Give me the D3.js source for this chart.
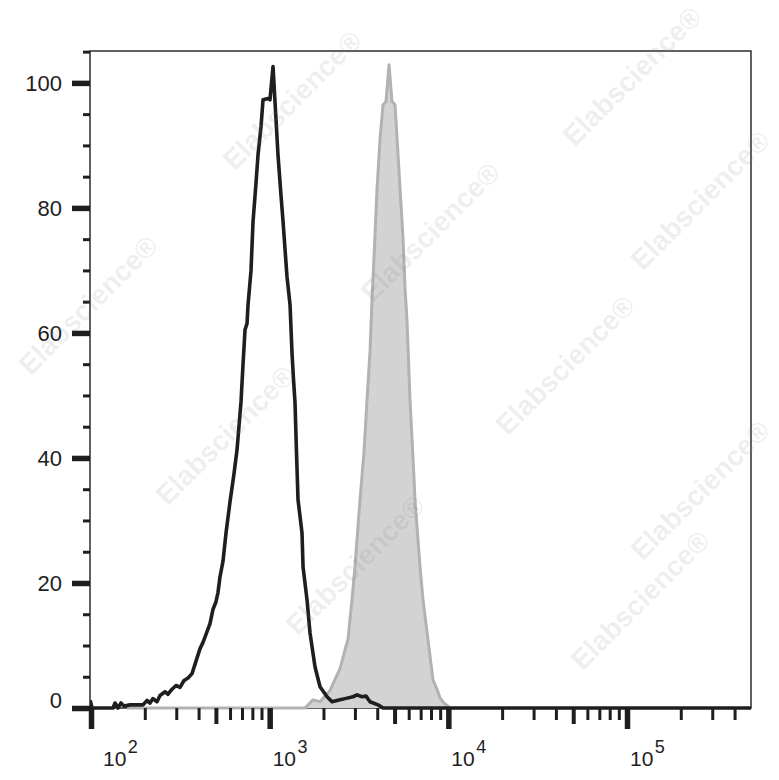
<!DOCTYPE html>
<html>
<head>
<meta charset="utf-8">
<script src="https://cdn.jsdelivr.net/npm/d3@7"></script>
<style>
  html, body { margin: 0; padding: 0; background: #fff; }
  svg { display: block; }
</style>
</head>
<body>
<svg id="chart" width="779" height="780"></svg>
<script>
// ---- data ----
const xDomain = [98.7, 494300];           // fluorescence axis extent
const yDomain = [0, 105.1];               // count axis extent
const yMajorTicks = [0, 20, 40, 60, 80, 100];
const yMinorTicks = [5, 10, 15, 25, 30, 35, 45, 50, 55, 65, 70, 75, 85, 90, 95, 105];
const xDecades = [100, 1000, 10000, 100000];
const xDecadeExponents = ["2", "3", "4", "5"];

// unstained / isotype (black outline)
const blackIntensity = [99, 101.3, 132.8, 136.3, 141.6, 147.2, 153.0, 165.3, 195.4, 205.8, 213.9, 222.3, 234.1, 243.3,
  259.5, 269.8, 284.1, 299.1, 314.9, 331.6, 349.1, 367.6, 387.0, 407.5, 423.6, 446.0, 463.5, 481.8, 500.8, 513.8,
  527.2, 548.0, 569.6, 599.8, 631.6, 656.5, 691.2, 709.3, 727.8, 746.8, 756.5, 786.3, 806.8, 838.6, 860.5, 894.4,
  917.8, 978.8, 1004, 1044, 1071, 1113, 1157, 1188, 1250, 1300, 1334, 1360, 1386, 1412, 1441, 1517, 1537, 1618,
  1682, 1793, 1913, 2094, 2234, 2475, 2640, 2927, 3083, 3287, 3461, 3644, 4040, 4309, 494300];
const blackCount = [1.2, 0, 0, 0.8, 0, 0.8, 0.3, 0.5, 0.5, 1.2, 0.8, 1.5, 1.0, 2.0,
  2.6, 2.2, 3.0, 3.6, 3.3, 4.4, 4.8, 5.5, 7.5, 9.5, 10.5, 12.2, 13.5, 15.8, 17, 18.5,
  21, 23.5, 28, 33, 37.5, 41.3, 49, 55, 60.5, 61.5, 64.5, 70, 77.8, 84, 88.5, 93,
  97.3, 97.5, 97.3, 102.6, 97, 88.5, 82, 77.8, 69, 64.5, 56.7, 52.5, 48.9, 41.1, 33.3, 28, 22.6, 17.3,
  12, 6.6, 3.4, 1.8, 1.0, 1.3, 1.5, 1.8, 2.1, 1.8, 1.9, 1.0, 0.5, 0, 0];

// stained sample (grey filled)
const greyIntensity = [159.0, 1576, 1748, 1913, 2176, 2475, 2640, 2744, 2889, 3003, 3203, 3373, 3506, 3644, 3739,
  3836, 3988, 4145, 4309, 4479, 4656, 4839, 5030, 5161, 5363, 5575, 5720, 5869, 6101, 6342, 6507, 6941, 7215,
  7693, 8206, 8640, 8981, 9456, 9956, 10210];
const greyCount = [0, 0, 1.3, 1.0, 2.8, 6.3, 9.3, 11, 17.3, 22.6, 33.3, 41, 49.3, 57, 65.3,
  72, 83, 91, 96.5, 97, 102.9, 97, 96.5, 91.2, 83.2, 75.2, 67.2, 62, 49.3, 40, 33.3, 22.6, 17.3,
  10.9, 4.5, 3.0, 1.6, 0.8, 0.3, 0];

const watermarkText = "Elabscience\u00AE";
const watermarkCenters = [[292, 100], [632, 76], [430, 232], [88, 305], [565, 365], [700, 200],
  [225, 435], [700, 490], [355, 565], [640, 600]];

// ---- drawing ----
const svg = d3.select("#chart");
const L = 90, R = 751, T = 51, B = 708;
const x = d3.scaleLog().domain(xDomain).range([L, R]);
const y = d3.scaleLinear().domain(yDomain).range([B, T]);
const font = "'Liberation Sans', Arial, Helvetica, sans-serif";
const ink = "#1e1e1e";

svg.append("defs").append("clipPath").attr("id", "plotclip")
  .append("rect").attr("x", L).attr("y", T - 2).attr("width", R - L).attr("height", B - T + 6);

// frame
svg.append("rect").attr("x", L).attr("y", T).attr("width", R - L).attr("height", B - T)
  .attr("fill", "none").attr("stroke", ink).attr("stroke-width", 1.4);

const plot = svg.append("g").attr("clip-path", "url(#plotclip)");

const grey = greyIntensity.map((v, i) => [v, greyCount[i]]);
const black = blackIntensity.map((v, i) => [v, blackCount[i]]);

plot.append("path").datum(grey)
  .attr("d", d3.area().x(d => x(d[0])).y0(y(0)).y1(d => y(d[1])))
  .attr("fill", "#d3d3d3");
plot.append("path").datum(grey)
  .attr("d", d3.line().x(d => x(d[0])).y(d => y(d[1])))
  .attr("fill", "none").attr("stroke", "#b2b2b2").attr("stroke-width", 3).attr("stroke-linejoin", "round");
plot.append("path").datum(black)
  .attr("d", d3.line().x(d => x(d[0])).y(d => y(d[1])))
  .attr("fill", "none").attr("stroke", ink).attr("stroke-width", 3.6).attr("stroke-linejoin", "round");

// y axis
const yMajor = svg.append("g").attr("transform", `translate(${L},0)`)
  .call(d3.axisLeft(y).tickValues(yMajorTicks).tickSize(18).tickPadding(10).tickFormat(d3.format("d")));
yMajor.select(".domain").remove();
yMajor.selectAll("line").attr("stroke", ink).attr("stroke-width", 5.5);
yMajor.selectAll("text").attr("fill", ink).style("font-family", font).style("font-size", "22px")
  .attr("dy", d => d === 0 ? "-0.02em" : "0.34em");

const yMinor = svg.append("g").attr("transform", `translate(${L},0)`)
  .call(d3.axisLeft(y).tickValues(yMinorTicks).tickSize(7).tickFormat(""));
yMinor.select(".domain").remove();
yMinor.selectAll("line").attr("stroke", ink).attr("stroke-width", 3);

// x axis ticks
const minorAll = [];
const midAll = [];
[10, 100, 1000, 10000, 100000].forEach(dec => {
  for (let m = 2; m <= 9; m++) {
    const v = dec * m;
    if (v >= xDomain[0] && v <= xDomain[1]) (m === 5 ? midAll : minorAll).push(v);
  }
});
function xTicks(values, size, width) {
  const g = svg.append("g").attr("transform", `translate(0,${B})`)
    .call(d3.axisBottom(x).tickValues(values).tickSize(size).tickFormat(""));
  g.select(".domain").remove();
  g.selectAll("line").attr("stroke", ink).attr("stroke-width", width);
  return g;
}
xTicks(minorAll, 12, 3);
xTicks(midAll, 16, 4);
xTicks(xDecades, 21, 5.5);

// x labels: 10^n
const xl = svg.append("g");
xDecades.forEach((v, i) => {
  const t = xl.append("text")
    .attr("x", x(v) + (i === 0 ? 12 : 3)).attr("y", 766)
    .attr("fill", ink).style("font-family", font).style("font-size", "21px");
  t.append("tspan").text("10");
  t.append("tspan").attr("dx", 1.5).attr("dy", -13).style("font-size", "18px").text(xDecadeExponents[i]);
});

// watermark
const wm = svg.append("g").style("pointer-events", "none");
watermarkCenters.forEach(c => {
  wm.append("text").attr("transform", `translate(${c[0]},${c[1]}) rotate(-45)`)
    .attr("text-anchor", "middle").attr("dy", "0.35em")
    .style("font-family", font).style("font-size", "28px").style("font-weight", "bold")
    .attr("fill", "rgba(120,120,120,0.12)").text(watermarkText);
});
</script>
</body>
</html>
